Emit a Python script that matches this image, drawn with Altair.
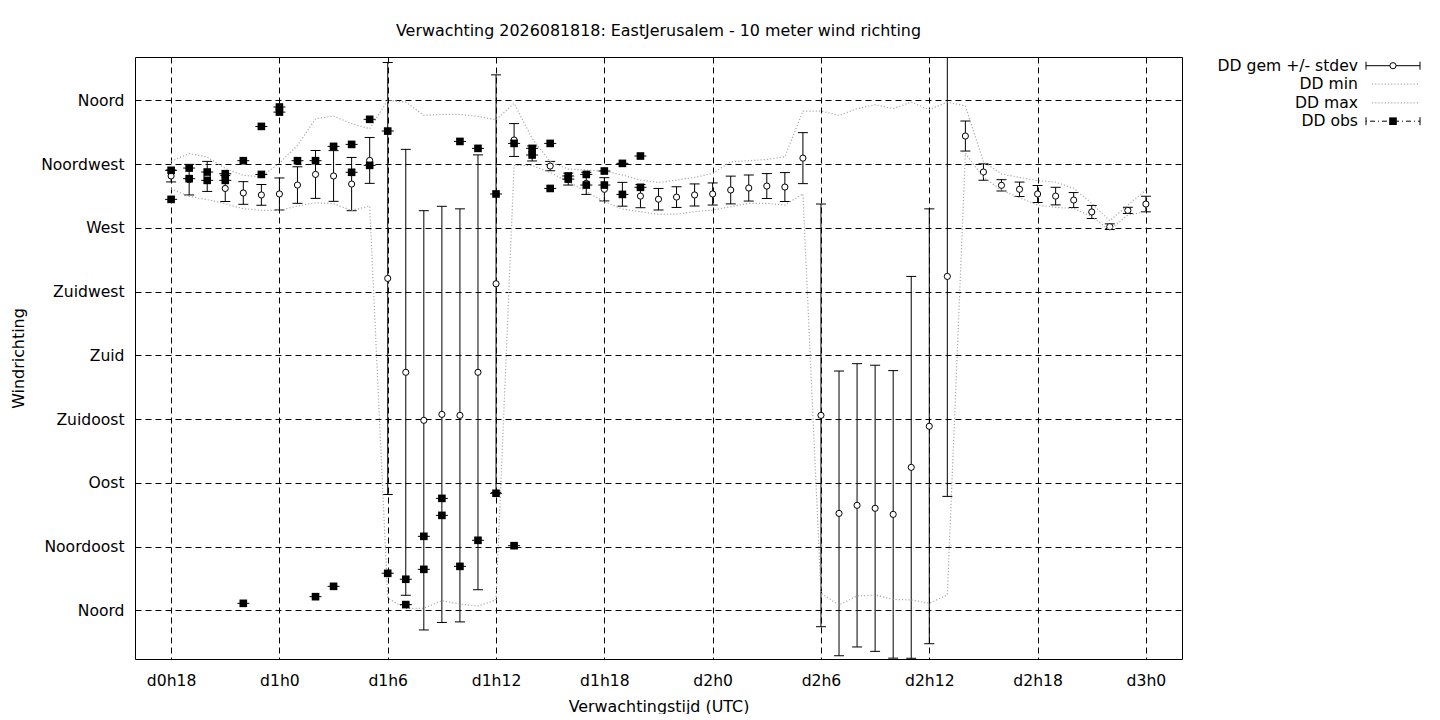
import altair as alt
import pandas as pd

# ---------------- data ----------------
hours = list(range(18, 73))  # hours after d0h0

dd_mean = [306.6, 304.0, 306.3, 297.8, 294.6, 293.2, 293.9, 300.2, 307.7, 306.6, 300.9, 317.6,
           234.3, 168.0, 134.1, 138.3, 137.6, 168.0, 230.5,
           332.0, 322.5, 313.6, 304.4, 301.4, 297.2, 293.7, 292.4, 290.2, 291.7, 293.2, 293.9,
           296.7, 298.1, 299.5, 298.8, 319.2,
           137.6, 68.4, 74.1, 72.0, 67.7, 100.9, 129.9, 235.7,
           334.8, 309.4, 300.0, 297.2, 293.9, 292.4, 289.6, 281.2, 270.8, 282.3, 286.8]

dd_std = [4.2, 10.8, 10.6, 9.2, 8.0, 7.3, 11.3, 12.9, 16.9, 17.9, 18.8, 16.2,
          152.5, 157.4, 148.0, 146.9, 145.8, 153.5, 147.5,
          11.6, 5.3, 3.3, 4.2, 7.8, 8.2, 8.4, 8.2, 7.6, 7.3, 7.8, 7.8,
          9.8, 9.2, 8.8, 10.2, 18.0,
          149.2, 100.5, 100.0, 101.0, 101.5, 134.8, 153.5, 155.3,
          10.6, 5.8, 4.0, 5.1, 6.0, 6.2, 5.3, 4.6, 2.0, 2.2, 5.5]

dd_min = [297.6, 292.2, 289.9, 287.0, 283.5, 282.3, 282.3, 285.4, 287.7, 287.0, 282.3, 285.4,
          8.5, 1.4, 1.4, 6.8, 4.4, 3.0, 7.3,
          314.0, 314.0, 309.0, 302.6, 295.5, 288.4, 283.3, 281.4, 279.5, 279.7, 281.4, 282.6,
          284.9, 287.3, 287.3, 286.1, 294.0,
          12.0, 3.7, 10.1, 10.8, 7.7, 7.3, 4.9, 10.8,
          322.6, 305.6, 296.7, 291.3, 286.1, 284.4, 283.7, 277.9, 268.4, 279.0, 281.4]

dd_max = [317.0, 322.5, 320.0, 312.0, 307.0, 306.0, 315.7, 328.2, 347.0, 348.9, 343.5, 340.0,
          360.0, 358.8, 349.4, 350.1, 350.1, 348.7, 346.3,
          357.9, 333.1, 316.7, 311.5, 310.8, 310.1, 307.3, 303.7, 302.0, 303.7, 305.6, 308.4,
          316.7, 317.4, 318.3, 320.2, 352.4,
          352.4, 349.4, 354.1, 356.9, 354.1, 358.8, 353.4, 358.8,
          356.0, 316.7, 308.0, 305.6, 303.3, 302.3, 297.9, 287.3, 275.0, 286.1, 296.7]

obs_hour = [18, 18, 19, 19, 20, 20, 21, 21, 22, 22, 23, 23, 24, 24, 25, 26, 26, 27, 27,
            28, 28, 29, 29, 30, 30, 31, 31, 32, 32, 33, 33, 34, 34, 35, 35, 36, 36,
            37, 37, 38, 38, 39, 39, 40, 40, 41, 41, 42, 42, 43, 43, 44, 44]
obs_dir = [310.6, 290.1, 312.2, 304.7, 309.4, 303.5, 308.2, 303.5, 317.4, 4.9,
           341.6, 307.7, 355.3, 351.7, 317.4, 317.4, 9.6, 327.5, 16.9,
           328.9, 309.2, 346.6, 314.1, 338.3, 26.1, 21.9, 4.0, 52.2, 28.9, 79.0, 67.0,
           331.0, 31.0, 326.1, 49.4, 293.9, 82.6,
           329.6, 45.6, 326.1, 321.4, 329.6, 297.8, 306.6, 304.4, 307.7, 300.2,
           310.1, 300.2, 315.5, 293.6, 320.7, 298.6]

x_tick_hours = [18, 24, 30, 36, 42, 48, 54, 60, 66, 72]
x_tick_labels = ["d0h18", "d1h0", "d1h6", "d1h12", "d1h18", "d2h0", "d2h6", "d2h12", "d2h18", "d3h0"]
y_tick_values = [0, 45, 90, 135, 180, 225, 270, 315, 360]
y_tick_labels = ["Noord", "Noordoost", "Oost", "Zuidoost", "Zuid", "Zuidwest", "West", "Noordwest", "Noord"]

legend_labels = ["DD gem +/- stdev", "DD min", "DD max", "DD obs"]

title_text = "Verwachting 2026081818: EastJerusalem - 10 meter wind richting"

# ---------------- chart ----------------
FONT = "DejaVu Sans"
W, H = 1047, 602
TICK_FS = 15.6
TITLE_FS = 15.9

fc = pd.DataFrame({"hour": hours, "mean": dd_mean, "std": dd_std, "min": dd_min, "max": dd_max})
obs = pd.DataFrame({"hour": obs_hour, "dir": obs_dir})

x_label_expr = "[" + ",".join("'%s'" % s for s in x_tick_labels) + "][round((datum.value-18)/6)]"
y_label_expr = "[" + ",".join("'%s'" % s for s in y_tick_labels) + "][round(datum.value/45)]"

xscale = alt.Scale(domain=[16, 74], nice=False, zero=False)
yscale = alt.Scale(domain=[-34.4, 390.6], nice=False, zero=False)

xaxis = alt.Axis(values=x_tick_hours, labelExpr=x_label_expr, grid=True, gridDash=[6, 4],
                 gridColor="black", gridOpacity=1, gridWidth=1, ticks=False, domain=False,
                 labelFont=FONT, labelFontSize=TICK_FS, labelColor="black", labelPadding=14,
                 labelFlush=False, labelOverlap=False,
                 title="Verwachtingstijd (UTC)", titleFont=FONT, titleFontSize=TITLE_FS,
                 titleFontWeight="normal", titleColor="black",
                 titleX=W / 2, titleY=47, titleAlign="center", titleBaseline="middle")
yaxis = alt.Axis(values=y_tick_values, labelExpr=y_label_expr, grid=True, gridDash=[6, 4],
                 gridColor="black", gridOpacity=1, gridWidth=1, ticks=False, domain=False,
                 labelFont=FONT, labelFontSize=TICK_FS, labelColor="black", labelPadding=11,
                 labelFlush=False, labelOverlap=False,
                 title="Windrichting", titleFont=FONT, titleFontSize=TITLE_FS,
                 titleFontWeight="normal", titleColor="black",
                 titleX=-117, titleY=H / 2, titleAngle=-90, titleAlign="center",
                 titleBaseline="middle")

base = alt.Chart(fc).transform_calculate(
    lo="datum.mean - datum.std", hi="datum.mean + datum.std")

xenc = alt.X("hour:Q", scale=xscale, axis=xaxis)

bars = base.mark_rule(color="black", strokeWidth=1, clip=True).encode(
    x=xenc, y=alt.Y("lo:Q", scale=yscale, axis=yaxis), y2="hi:Q")
cap_lo = base.mark_tick(orient="horizontal", size=10, thickness=1, color="black",
                        opacity=1, clip=True).encode(
    x=alt.X("hour:Q", scale=xscale), y=alt.Y("lo:Q", scale=yscale))
cap_hi = base.mark_tick(orient="horizontal", size=10, thickness=1, color="black",
                        opacity=1, clip=True).encode(
    x=alt.X("hour:Q", scale=xscale), y=alt.Y("hi:Q", scale=yscale))
circles = base.mark_point(shape="circle", filled=True, fill="white", stroke="black",
                          strokeWidth=1, size=38, opacity=1, clip=True).encode(
    x=alt.X("hour:Q", scale=xscale), y=alt.Y("mean:Q", scale=yscale))

min_line = alt.Chart(fc).mark_line(color="#a9a9a9", strokeWidth=1.2, strokeDash=[1.2, 2],
                                   clip=True).encode(
    x=alt.X("hour:Q", scale=xscale), y=alt.Y("min:Q", scale=yscale))
max_line = alt.Chart(fc).mark_line(color="#a9a9a9", strokeWidth=1.2, strokeDash=[1.2, 2],
                                   clip=True).encode(
    x=alt.X("hour:Q", scale=xscale), y=alt.Y("max:Q", scale=yscale))

obs_pts = alt.Chart(obs).mark_square(color="black", size=58, opacity=1, filled=True).encode(
    x=alt.X("hour:Q", scale=xscale), y=alt.Y("dir:Q", scale=yscale))
obs_caps = alt.Chart(obs).mark_tick(orient="horizontal", size=12, thickness=1, color="black",
                                    opacity=1).encode(
    x=alt.X("hour:Q", scale=xscale), y=alt.Y("dir:Q", scale=yscale))

# ---------------- gnuplot-like key (top right, outside plot) ----------------
key_text_x = 1223
key_x0, key_x1, key_xc = 1231, 1285, 1258
key_rows = [8.7, 27.2, 45.9, 64.2]

legend_layers = []
for i, lab in enumerate(legend_labels):
    d = pd.DataFrame({"label": [lab]})
    ky = key_rows[i]
    legend_layers.append(
        alt.Chart(d).mark_text(align="right", baseline="middle", font=FONT, fontSize=TICK_FS,
                               color="black").encode(
            text="label:N", x=alt.value(key_text_x), y=alt.value(ky)))
    if i == 0:
        legend_layers += [
            alt.Chart(d).mark_rule(color="black", strokeWidth=1).encode(
                x=alt.value(key_x0), x2=alt.value(key_x1), y=alt.value(ky)),
            alt.Chart(d).mark_rule(color="black", strokeWidth=1).encode(
                x=alt.value(key_x0), y=alt.value(ky - 4), y2=alt.value(ky + 4)),
            alt.Chart(d).mark_rule(color="black", strokeWidth=1).encode(
                x=alt.value(key_x1), y=alt.value(ky - 4), y2=alt.value(ky + 4)),
            alt.Chart(d).mark_point(shape="circle", filled=True, fill="white", stroke="black",
                                    strokeWidth=1, size=38, opacity=1).encode(
                x=alt.value(key_xc), y=alt.value(ky)),
        ]
    elif i in (1, 2):
        legend_layers.append(
            alt.Chart(d).mark_rule(color="#a9a9a9", strokeWidth=1.2, strokeDash=[1.2, 2]).encode(
                x=alt.value(key_x0 + 6), x2=alt.value(key_x1), y=alt.value(ky)))
    else:
        legend_layers += [
            alt.Chart(d).mark_rule(color="black", strokeWidth=1, strokeDash=[1, 3, 5, 3]).encode(
                x=alt.value(key_x0), x2=alt.value(key_x1), y=alt.value(ky)),
            alt.Chart(d).mark_rule(color="black", strokeWidth=1).encode(
                x=alt.value(key_x0), y=alt.value(ky - 4), y2=alt.value(ky + 4)),
            alt.Chart(d).mark_rule(color="black", strokeWidth=1).encode(
                x=alt.value(key_x1), y=alt.value(ky - 4), y2=alt.value(ky + 4)),
            alt.Chart(d).mark_square(color="black", size=58, opacity=1, filled=True).encode(
                x=alt.value(key_xc), y=alt.value(ky)),
        ]

chart = alt.layer(
    bars, cap_lo, cap_hi, circles, min_line, max_line, obs_caps, obs_pts, *legend_layers
).properties(
    width=W, height=H,
    title=alt.TitleParams(title_text, font=FONT, fontSize=TITLE_FS, fontWeight="normal",
                          color="black", anchor="middle", offset=18),
    autosize=alt.AutoSizeParams(type="none"),
    padding={"left": 127, "top": 49, "right": 250, "bottom": 55},
    background="white",
).configure_view(
    stroke="black", strokeWidth=1
)

chart.save("out.html", embed_options={"renderer": "svg", "actions": False})
